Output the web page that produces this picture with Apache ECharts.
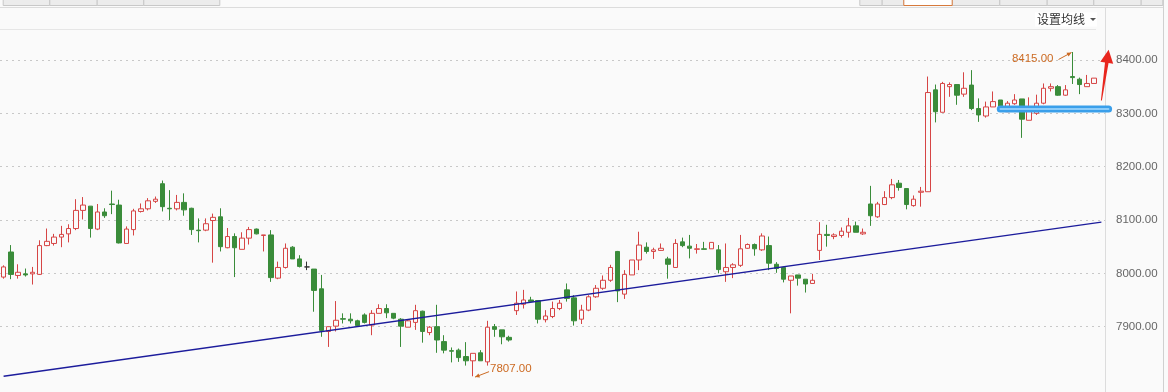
<!DOCTYPE html>
<html><head><meta charset="utf-8">
<script src="https://cdn.jsdelivr.net/npm/echarts@6/dist/echarts.min.js"></script>
<style>html,body{margin:0;padding:0;background:#fafafa;}#c{width:1168px;height:392px;}</style>
</head><body><div id="c"></div>
<script>
// ---- data ----
const opens = [7993,8040,7996,7999,7999,7998,8052,8056,8068,8074,8084,8118,8126,8083,8115,8130,8128,8056,8082,8116,
8121,8135,8168,8122,8121,8133,8122,8081,8081,8099,8106,8048,8069,8045,8066,8083,8071,8072,7991,8011,
8049,8027,8012,8008,7971,7891,7901,7915,7914,7911,7922,7903,7925,7934,7925,7914,7899,7908,7929,7889,
7900,7872,7855,7856,7844,7836,7851,7834,7900,7894,7880,7930,7942,7950,7949,7913,7919,7934,7969,7954,
7914,7931,7956,7972,7987,8041,7961,7997,8025,8049,8041,8043,8027,8011,8059,8051,8045,8046,8046,8044,
8003,8011,8015,8047,8054,8044,8052,8017,8011,7987,7997,7989,7981,8043,8073,8069,8071,8077,8089,8074,
8130,8106,8129,8142,8169,8159,8127,8152,8153,8344,8302,8350,8354,8336,8353,8309,8295,8312,8325,8303,
8318,8327,8287,8300,8319,8347,8350,8334,8369,8364,8350,8356];
const closes = [8012,7998,8002,7997,8002,8052,8060,8068,8073,8084,8118,8128,8084,8115,8108,8129,8057,8083,8117,8121,
8136,8139,8125,8121,8133,8119,8082,8080,8093,8105,8050,8069,8048,8066,8082,8074,8072,7992,8011,8047,
8027,8013,8012,7968,7893,7900,7912,7914,7911,7902,7908,7925,7934,7926,7916,7901,7911,7930,7891,7899,
7875,7856,7854,7842,7836,7850,7836,7899,7895,7881,7875,7944,7950,7947,7914,7920,7934,7944,7953,7911,
7931,7956,7972,7987,8011,7967,7998,8025,8053,8041,8044,8047,8017,8056,8052,8047,8046,8045,8058,8007,
8011,8016,8046,8054,8046,8070,8019,8009,7989,7995,7991,7980,7987,8073,8071,8072,8079,8089,8077,8077,
8108,8130,8142,8166,8161,8129,8139,8154,8339,8303,8356,8354,8334,8347,8309,8297,8312,8322,8308,8319,
8325,8289,8306,8319,8347,8350,8334,8344,8367,8354,8356,8366];
const highs = [8015,8053,8017,8009,8012,8062,8084,8074,8089,8092,8139,8143,8126,8130,8122,8155,8138,8088,8121,8131,
8141,8144,8174,8156,8147,8150,8123,8103,8103,8112,8122,8085,8075,8077,8087,8084,8072,8081,8022,8056,
8051,8034,8022,8008,7997,7900,7948,7925,7925,7913,7925,7931,7942,7942,7925,7916,7914,7941,7930,7901,
7941,7884,7861,7859,7871,7850,7856,7911,7905,7894,7883,7966,7969,7956,7949,7931,7947,7950,7981,7959,
7941,7959,7978,7996,8016,8042,8006,8025,8078,8058,8048,8056,8031,8064,8067,8072,8055,8059,8058,8053,
8056,8019,8072,8056,8056,8075,8069,8021,8011,7995,7997,7989,7999,8096,8091,8075,8086,8104,8097,8084,
8164,8134,8154,8177,8175,8159,8146,8162,8369,8354,8359,8358,8354,8377,8381,8328,8322,8341,8325,8323,
8336,8327,8330,8335,8356,8356,8353,8353,8415,8367,8372,8366];
const lows = [7990,7989,7990,7994,7979,7997,8051,8052,8049,8058,8081,8101,8067,8081,8104,8111,8056,8056,8071,8114,
8118,8132,8116,8100,8118,8108,8072,8058,8079,8020,8041,8047,7993,8045,8054,8073,8041,7984,7989,8009,
8027,8011,8006,7928,7881,7862,7891,7906,7906,7901,7906,7884,7925,7916,7914,7862,7899,7894,7870,7884,
7851,7850,7833,7834,7827,7807,7836,7827,7881,7867,7872,7922,7934,7947,7906,7908,7916,7931,7947,7902,
7905,7929,7954,7969,7984,7946,7952,7997,8006,8037,8027,8042,7990,8011,8049,8028,8037,8045,8046,8000,
7984,7991,8012,8046,8033,8042,8006,8001,7983,7925,7977,7964,7981,8025,8050,8064,8067,8067,8077,8072,
8089,8104,8128,8139,8155,8120,8125,8125,8153,8283,8302,8331,8316,8331,8306,8284,8292,8312,8304,8303,
8316,8254,8287,8297,8317,8341,8333,8333,8355,8336,8350,8356];
// one empty slot after the last candle
const categories = opens.map((_, i) => 'D' + (i + 1)).concat(['']);
const yTickValues = [7900, 8000, 8100, 8200, 8300, 8400];
const trendFrom = [0, 7807];
const trendTo = [152, 8096];
const highlightLevel = 8308;
const highlightRange = [138.25, 153.25];
const arrowTail = [152.18, 8324];
const arrowTip = [152.85, 8419];

const UP = '#d64545', DOWN = '#3a8c3a', DOJI = '#333333', BG = '#fafafa';

const candleData = opens.map((o, i) => {
  const item = { value: [o, closes[i], lows[i], highs[i]] };
  if (o === closes[i]) item.itemStyle = { color: DOJI, color0: DOJI, borderColor: DOJI, borderColor0: DOJI };
  return item;
});

const chart = echarts.init(document.getElementById('c'), null, { renderer: 'canvas' });
chart.setOption({
  animation: false,
  backgroundColor: BG,
  grid: { left: -5.6, right: 63, top: 33.333, bottom: 12 },
  xAxis: { type: 'category', data: categories, boundaryGap: true, show: false },
  yAxis: {
    type: 'value', position: 'right', min: 7800, max: 8450, interval: 100,
    axisLine: { show: false }, axisTick: { show: false },
    axisLabel: {
      margin: 11, color: '#666', fontSize: 11.5, fontFamily: 'Liberation Sans',
      showMinLabel: false, showMaxLabel: false,
      formatter: v => yTickValues.includes(v) ? v.toFixed(2) : ''
    },
    splitLine: { show: true, showMinLine: false, showMaxLine: false, lineStyle: { color: '#c8c8c8', type: [2, 4], width: 1 } }
  },
  series: [{
    type: 'candlestick',
    data: candleData,
    barWidth: 5,
    itemStyle: { color: BG, color0: DOWN, borderColor: UP, borderColor0: DOWN, borderWidth: 1 },
    markLine: {
      silent: true, symbol: ['none', 'none'], label: { show: false },
      lineStyle: { color: '#1c1c9c', width: 1.3, type: 'solid' },
      data: [[{ coord: [categories[trendFrom[0]], trendFrom[1]] }, { coord: [categories[trendTo[0]], trendTo[1]] }]]
    }
  }]
});

function px(idx, v) { return chart.convertToPixel({ seriesIndex: 0 }, [idx, v]); }

function arrowShape(x1, y1, x2, y2, color, head) {
  const a = Math.atan2(y2 - y1, x2 - x1), h = head || 5;
  const p1 = [x2 - h * Math.cos(a - 0.45), y2 - h * Math.sin(a - 0.45)];
  const p2 = [x2 - h * Math.cos(a + 0.45), y2 - h * Math.sin(a + 0.45)];
  return [
    { type: 'line', shape: { x1, y1, x2, y2 }, style: { stroke: color, lineWidth: 1 }, z: 20 },
    { type: 'polygon', shape: { points: [[x2, y2], p1, p2] }, style: { fill: color }, z: 20 }
  ];
}

// extremes
let maxI = 0, minI = 0;
highs.forEach((h, i) => { if (h > highs[maxI]) maxI = i; });
lows.forEach((l, i) => { if (l < lows[minI]) minI = i; });
const pMax = px(maxI, highs[maxI]);
const pMin = px(minI, lows[minI]);
const ORANGE = '#cc6a22';

const g = [];
// header chrome
const leftTabs = [[2.7, 49.3], [49.3, 96.7], [96.7, 143.3], [143.3, 219.3]];
leftTabs.forEach(t => g.push({ type: 'rect', shape: { x: t[0] + 0.5, y: -3, width: t[1] - t[0], height: 8.5 }, style: { fill: '#ececec', stroke: '#c8c8c8', lineWidth: 1 }, z: 5 }));
const rightTabs = [[859.3, 881.7], [881.7, 903.3], [903.3, 951.7], [951.7, 999.3], [999.3, 1046.7], [1046.7, 1093.3], [1093.3, 1140.7], [1140.7, 1162.3]];
rightTabs.forEach((t, k) => g.push({ type: 'rect', shape: { x: t[0] + 0.5, y: -3, width: t[1] - t[0], height: 8.5 }, style: { fill: k === 2 ? '#ffffff' : '#ececec', stroke: k === 2 ? '#d77a3c' : '#c8c8c8', lineWidth: 1 }, z: k === 2 ? 6 : 5 }));
g.push({ type: 'line', shape: { x1: 0, y1: 7.5, x2: 1164, y2: 7.5 }, style: { stroke: '#dcdcdc', lineWidth: 1 }, z: 4 });
g.push({ type: 'line', shape: { x1: 0, y1: 29.5, x2: 1096, y2: 29.5 }, style: { stroke: '#e6e6e6', lineWidth: 1 }, z: 4 });
g.push({ type: 'rect', shape: { x: 1035, y: 12.5, width: 62, height: 14 }, style: { fill: '#ffffff' }, z: 5 });
g.push({ type: 'text', x: 1037, y: 19.5, style: { text: '设置均线', fill: '#333', fontSize: 12, fontFamily: 'Noto Sans CJK SC', verticalAlign: 'middle' }, z: 6 });
g.push({ type: 'polygon', shape: { points: [[1090, 18], [1096, 18], [1093, 21]] }, style: { fill: '#555' }, z: 6 });
g.push({ type: 'line', shape: { x1: 1105.5, y1: 7.5, x2: 1105.5, y2: 392 }, style: { stroke: '#dcdcdc', lineWidth: 1 }, z: 4 });
g.push({ type: 'line', shape: { x1: 1163.5, y1: 0, x2: 1163.5, y2: 392 }, style: { stroke: '#d0d0d0', lineWidth: 1 }, z: 4 });

// max / min labels
g.push({ type: 'text', x: pMax[0] - 19, y: pMax[1] + 6.5, style: { text: highs[maxI].toFixed(2), fill: ORANGE, fontSize: 11.5, fontFamily: 'Liberation Sans', align: 'right', verticalAlign: 'middle' }, z: 20 });
g.push(...arrowShape(pMax[0] - 14, pMax[1] + 7.5, pMax[0] - 1, pMax[1] + 0.5, ORANGE, 5));
g.push({ type: 'text', x: pMin[0] + 17, y: pMin[1] - 7, style: { text: lows[minI].toFixed(2), fill: ORANGE, fontSize: 11.5, fontFamily: 'Liberation Sans', align: 'left', verticalAlign: 'middle' }, z: 20 });
g.push(...arrowShape(pMin[0] + 16, pMin[1] - 4.6, pMin[0] + 2, pMin[1] + 0.8, ORANGE, 5));

// blue highlight line
const hl0 = px(highlightRange[0], highlightLevel), hl1 = px(highlightRange[1], highlightLevel);
g.push({ type: 'line', shape: { x1: hl0[0], y1: hl0[1], x2: hl1[0], y2: hl1[1] }, style: { stroke: '#3a9fea', lineWidth: 7, lineCap: 'round' }, z: 30 });
g.push({ type: 'line', shape: { x1: hl0[0], y1: hl0[1], x2: hl1[0], y2: hl1[1] }, style: { stroke: '#a8dcff', lineWidth: 1.6, lineCap: 'round' }, z: 31 });

// red arrow
const at = px(arrowTail[0], arrowTail[1]), ah = px(arrowTip[0], arrowTip[1]);
(function () {
  const dx = ah[0] - at[0], dy = ah[1] - at[1], L = Math.hypot(dx, dy);
  const ux = dx / L, uy = dy / L, nx = -uy, ny = ux;
  const headLen = 13, headHalf = 6.5;
  const bx = ah[0] - ux * headLen, by = ah[1] - uy * headLen;
  const pts = [
    [at[0] + nx * 0.5, at[1] + ny * 0.5],
    [bx + nx * 1.8, by + ny * 1.8],
    [bx + nx * headHalf, by + ny * headHalf],
    [ah[0], ah[1]],
    [bx - nx * headHalf, by - ny * headHalf],
    [bx - nx * 1.8, by - ny * 1.8],
    [at[0] - nx * 0.5, at[1] - ny * 0.5]
  ];
  g.push({ type: 'polygon', shape: { points: pts }, style: { fill: '#e8261e' }, z: 32 });
})();

chart.setOption({ graphic: g });
</script>
</body></html>
